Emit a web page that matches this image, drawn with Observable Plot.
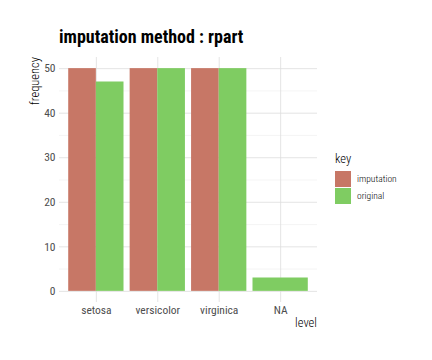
<!DOCTYPE html>
<html>
<head>
<meta charset="utf-8">
<script src="https://cdn.jsdelivr.net/npm/d3@7"></script>
<script src="https://cdn.jsdelivr.net/npm/@observablehq/plot@0.6"></script>
<style>
  body { margin: 0; background: #fff; }
  #chart svg { display: block; }
</style>
</head>
<body>
<div id="chart"></div>
<script>
const levels = ["setosa", "versicolor", "virginica", "NA"];
const keys = ["imputation", "original"];
const imputation = [50, 50, 50, null];
const original = [47, 50, 50, 3];
const colors = ["#c77766", "#7fcc62"];
const yTicks = [0, 10, 20, 30, 40, 50];
const yMinor = [5, 15, 25, 35, 45];

const FONT = "'Roboto Condensed', 'Liberation Sans Narrow', Roboto, sans-serif";
const series = {imputation, original};
const rows = [];
levels.forEach((lv, i) => {
  const present = keys.filter(k => series[k][i] != null);
  const w = 0.9 / present.length;
  present.forEach((k, j) => rows.push({
    level: lv, key: k, x1: i - 0.45 + j * w, x2: i - 0.45 + (j + 1) * w, value: series[k][i]
  }));
});

const plot = Plot.plot({
  width: 432, height: 360,
  marginLeft: 59, marginRight: 115, marginTop: 57, marginBottom: 58,
  style: {fontFamily: FONT, fontSize: "11px", background: "#fff"},
  x: {type: "linear", domain: [-0.6, 3.6]},
  y: {domain: [-2.5, 52.5]},
  color: {domain: keys, range: colors},
  marks: [
    Plot.ruleY(yMinor, {stroke: "#eeeeee", strokeWidth: 0.6}),
    Plot.ruleY(yTicks, {stroke: "#dddddd", strokeWidth: 0.8}),
    Plot.ruleX(levels.map((d, i) => i), {stroke: "#dddddd", strokeWidth: 0.8}),
    Plot.rectY(rows, {x1: "x1", x2: "x2", y1: 0, y2: "value", fill: "key"}),
    Plot.axisY({ticks: yTicks, tickSize: 0, tickPadding: 4, label: null, color: "#4d4d4d", fontSize: 11.5}),
    Plot.axisX({ticks: levels.map((d, i) => i), tickFormat: i => levels[i], tickSize: 0, tickPadding: 3, label: null, color: "#4d4d4d", fontSize: 11.5})
  ]
});

const svg = d3.select(plot);
svg.append("text").attr("x", 59).attr("y", 43).attr("text-anchor", "start")
  .attr("font-family", FONT).attr("font-size", 18).attr("font-weight", "bold").attr("fill", "#000")
  .text("imputation method : rpart");
svg.append("text").attr("transform", "translate(39,57) rotate(-90)")
  .attr("text-anchor", "end").attr("font-family", FONT).attr("font-size", 12.5).attr("font-weight", 300).attr("fill", "#000")
  .text("frequency");
svg.append("text").attr("x", 317).attr("y", 327).attr("text-anchor", "end")
  .attr("font-family", FONT).attr("font-size", 12.5).attr("font-weight", 300).attr("fill", "#000")
  .text("level");
const leg = svg.append("g").attr("text-anchor", "start");
leg.append("text").attr("x", 335).attr("y", 163).attr("font-family", FONT).attr("font-size", 12.5).attr("font-weight", 300).attr("fill", "#000").text("key");
keys.forEach((k, i) => {
  leg.append("rect").attr("x", 335).attr("y", 171 + i * 17).attr("width", 16).attr("height", 16).attr("fill", colors[i]);
  leg.append("text").attr("x", 357).attr("y", 179 + i * 17).attr("dy", "0.35em")
    .attr("font-family", FONT).attr("font-size", 9.5).attr("font-weight", 300).attr("fill", "#000").text(k);
});

document.getElementById("chart").appendChild(plot);
</script>
</body>
</html>
